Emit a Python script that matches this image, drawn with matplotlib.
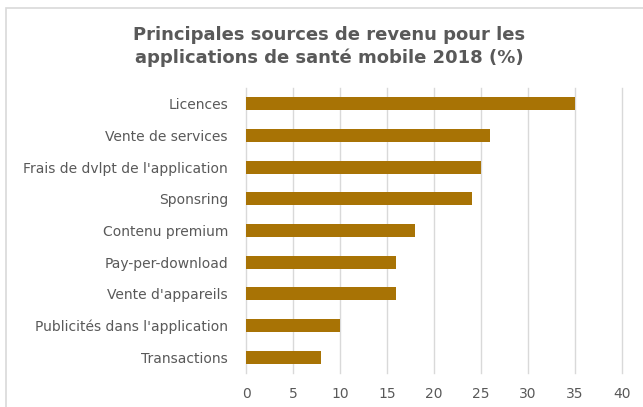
import matplotlib.pyplot as plt
from matplotlib.patches import Rectangle

categories = ["Licences", "Vente de services", "Frais de dvlpt de l'application",
              "Sponsring", "Contenu premium", "Pay-per-download",
              "Vente d'appareils", "Publicités dans l'application", "Transactions"]
values = [35, 26, 25, 24, 18, 16, 16, 10, 8]
xticks = [0, 5, 10, 15, 20, 25, 30, 35, 40]

plt.rcParams['font.family'] = ['DejaVu Sans']
text_color = '#595959'

fig = plt.figure(figsize=(6.43, 4.07), dpi=100)
ax = fig.add_axes([0.3826, 0.0835, 0.5847, 0.7003])

# light frame around the chart
fig.patches.append(Rectangle((0.010, -0.05), 1.2, 1.05 - 8 / 407, transform=fig.transFigure,
                             fill=False, edgecolor='#d9d9d9', linewidth=1.2))

pos = list(range(len(categories)))
ax.barh(pos, values, height=0.42, color='#A87305', zorder=3)
ax.set_yticks(pos)
ax.set_yticklabels(categories)
ax.set_ylim(len(categories) - 0.5, -0.5)
ax.set_xlim(0, 40)
ax.set_xticks(xticks)
ax.grid(axis='x', color='#d9d9d9', linewidth=1, zorder=0)
for gl in ax.get_xgridlines():
    gl.set_clip_on(False)
for s in ax.spines.values():
    s.set_visible(False)
ax.tick_params(axis='both', length=0, colors=text_color, labelsize=10)
ax.tick_params(axis='y', pad=13)
ax.tick_params(axis='x', pad=10)

fig.text(0.512, 0.885, "Principales sources de revenu pour les\napplications de santé mobile 2018 (%)",
         ha='center', va='center', fontsize=13, fontweight='bold', color=text_color,
         linespacing=1.3)

fig.savefig("out.png", dpi=100)
